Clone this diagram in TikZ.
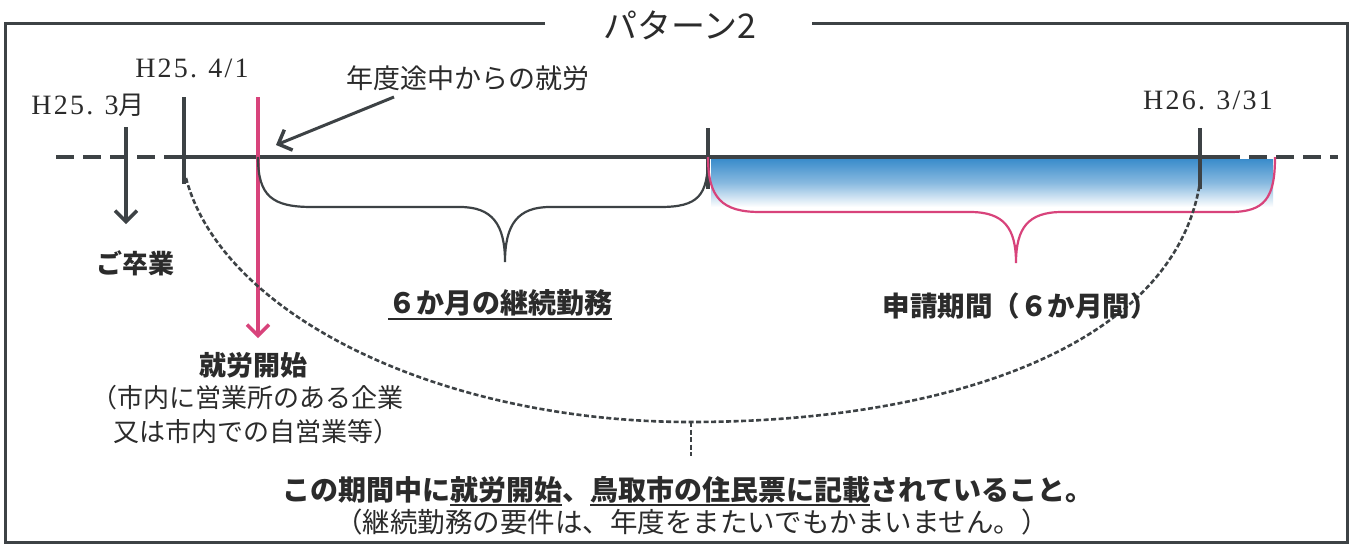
\documentclass[tikz,border=0pt]{standalone}
\usepackage{fontspec}
\setmainfont{Liberation Serif}
\newfontfamily\jp{Noto Sans CJK JP}
\newfontfamily\lat[LetterSpace=8]{Liberation Serif}
\usetikzlibrary{arrows.meta}
\definecolor{lineg}{HTML}{3D4245}
\definecolor{txt}{HTML}{2B2B2B}
\definecolor{pinkc}{HTML}{D8437B}
\definecolor{blueA}{HTML}{3A8CCB}
\newcommand\myul[1]{\setbox0\hbox{#1}\rlap{\raisebox{-6pt}{\rule{\wd0}{1.8pt}}}\box0}
\tikzset{
  frameline/.style={draw=lineg, line width=3pt},
  axis/.style={draw=lineg, line width=4pt},
  axisdash/.style={draw=lineg, line width=4pt, dash pattern=on 18pt off 9pt},
  tick/.style={draw=lineg, line width=3.5pt},
  garrow/.style={draw=lineg, line width=3.5pt, -{Straight Barb[length=11pt,width=22pt,line width=3.5pt]}},
  parrow/.style={draw=pinkc, line width=3.5pt, -{Straight Barb[length=11pt,width=22pt,line width=3.5pt]}},
  brace/.style={draw=lineg, line width=2.2pt},
  pbrace/.style={draw=pinkc, line width=2.2pt},
  arc/.style={draw=lineg, line width=2.6pt, dash pattern=on 5pt off 2.5pt},
  lbl/.style={text=txt, inner sep=0pt, font=\lat\fontsize{28}{30}\selectfont},
  jmin/.style={text=txt, inner sep=0pt, font=\jp\fontsize{26}{30}\selectfont},
  jgoth/.style={text=txt, inner sep=0pt, font=\jp\bfseries\fontsize{27}{30}\selectfont},
}
\begin{document}
\begin{tikzpicture}[x=1pt,y=-1pt]
\useasboundingbox (0,0) rectangle (1356,544);
\fill[white] (0,0) rectangle (1356,544);
% frame
\coordinate (fa) at (545,23);
\coordinate (fb) at (812,23);
\draw[frameline] (fa) -- (5,23) -- (5,542) -- (1347,542) -- (1347,23) -- (fb);
\node[jmin, font=\jp\fontsize{34}{36}\selectfont] (title) at (680,25) {パターン2};
% blue gradient
\shade[top color=blueA, bottom color=white, middle color=blueA!60] (711,159) rectangle (1273,207);
% timeline
\coordinate (t0) at (56,157);
\coordinate (t1) at (180,157);
\coordinate (t2) at (1222,157);
\coordinate (t3) at (1338,157);
\draw[axisdash] (t0) -- (t1);
\draw[axis] (t1) -- (t2);
\draw[axisdash] (t2) -- (t3);
% ticks
\coordinate (a1) at (184,97); \coordinate (a2) at (184,184);
\draw[tick] (a1) -- (a2);
\coordinate (b1) at (708,128); \coordinate (b2) at (708,189);
\draw[tick] (b1) -- (b2);
\coordinate (c1) at (1200,128); \coordinate (c2) at (1200,189);
\draw[tick] (c1) -- (c2);
% H25.3 arrow
\coordinate (g1) at (126,127); \coordinate (g2) at (126,224);
\draw[garrow] (g1) -- (g2);
% pink arrow
\coordinate (p1) at (258,97); \coordinate (p2) at (258,338);
\draw[parrow] (p1) -- (p2);
% mid-year arrow
\coordinate (m1) at (394,97); \coordinate (m2) at (276,145);
\draw[garrow, line width=3pt] (m1) -- (m2);
% black brace
\draw[brace] (258,157) .. controls (258,196) and (272,207) .. (312,207) -- (460,207)
  .. controls (492,207) and (505,224) .. (505,262)
  .. controls (505,224) and (518,207) .. (550,207) -- (660,207)
  .. controls (698,207) and (708,196) .. (708,157);
% pink brace
\draw[pbrace] (708,157) .. controls (708,198) and (722,212) .. (760,212) -- (970,212)
  .. controls (1004,212) and (1016,228) .. (1016,263)
  .. controls (1016,228) and (1028,212) .. (1062,212) -- (1230,212)
  .. controls (1265,212) and (1275,198) .. (1275,157);
% dashed big arc
\coordinate (d0) at (186,178);
\coordinate (dm) at (691,422);
\coordinate (d1) at (1200,182);
\coordinate (dt) at (691,456);
\draw[arc] (d0) .. controls (222,315) and (440,422) .. (dm)
  .. controls (950,422) and (1175,345) .. (d1);
\draw[arc] (dm) -- (dt);
% labels
\node[lbl] (l4) at (192,68) {H25.\hspace{0.4em}4/1};
\node[lbl] (l3) at (88,105) {H25.\hspace{0.4em}3{\jp\fontsize{26}{28}\selectfont 月}};
\node[lbl] (l26) at (1208,100) {H26.\hspace{0.4em}3/31};
\node[jmin, font=\jp\fontsize{27}{30}\selectfont] (mid) at (468,78) {年度途中からの就労};
\node[jgoth, font=\jp\bfseries\fontsize{26}{30}\selectfont] (grad) at (135,263) {ご卒業};
\node[jgoth] (start) at (253,365) {就労開始};
\node[jmin] (co1) at (247,398) {（市内に営業所のある企業};
\node[jmin] (co2) at (256,432) {又は市内での自営業等）};
\node[jgoth, font=\jp\bfseries\fontsize{28}{30}\selectfont] (six) at (500,305) {\myul{６か月の継続勤務}};
\node[jgoth, font=\jp\bfseries\fontsize{27.5}{30}\selectfont] (apply) at (1020,306) {申請期間（６か月間）};
\node[jgoth, font=\jp\bfseries\fontsize{28}{30}\selectfont] (cond) at (688,491) {この期間中に\myul{就労開始}、\myul{鳥取市の住民票に記載}されていること。};
\node[jmin, font=\jp\fontsize{27.5}{30}\selectfont] (note) at (692,522) {（継続勤務の要件は、年度をまたいでもかまいません。）};
\end{tikzpicture}
\end{document}
